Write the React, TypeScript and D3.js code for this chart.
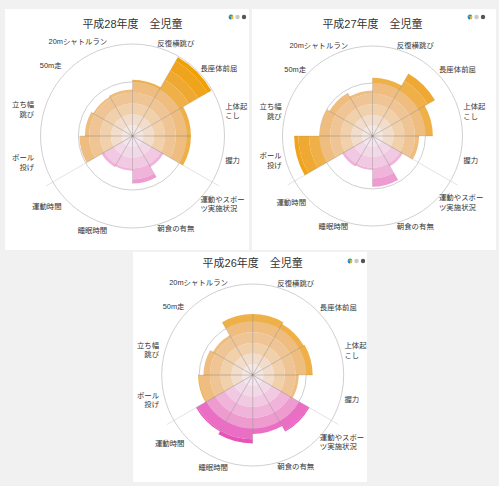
import React from "react";
import * as d3 from "d3";

const categories = [
  "反復横跳び", "長座体前屈", "上体起こし", "握力", "運動やスポーツ実施状況", "朝食の有無",
  "睡眠時間", "運動時間", "ボール投げ", "立ち幅跳び", "50m走", "20mシャトルラン",
];
const categoryLines = [
  ["反復横跳び"], ["長座体前屈"], ["上体起", "こし"], ["握力"], ["運動やスポー", "ツ実施状況"], ["朝食の有無"],
  ["睡眠時間"], ["運動時間"], ["ボール", "投げ"], ["立ち幅", "跳び"], ["50m走"], ["20mシャトルラン"],
];
const categoryGroup = ["fit", "fit", "fit", "fit", "life", "life", "life", "life", "fit", "fit", "fit", "fit"];

const titles = ["平成28年度　全児童", "平成27年度　全児童", "平成26年度　全児童"];
const valuesH28 = [52, 84, 54, 54, 33, 44, 32, 33, 49, 44, 42, 43];
const valuesH27 = [55, 68, 57, 44, 33, 48, 32, 33, 74, 50, 47, 43];
const valuesH26 = [57, 55, 56, 43, 61, 55, 64, 61, 51, 46, 43, 57];
const seriesValues = [valuesH28, valuesH27, valuesH26];

const averageLevel = 50;
const maxLevel = 85;
const bandStep = 10;

const orangeBands = ["#f3e8e4", "#f2ddcc", "#f1d0ac", "#f0c595", "#eebd7f", "#efb048", "#efa932", "#f0a41c", "#f0a000"];
const pinkBands = ["#f3e6ee", "#f2d9e8", "#f1c9e2", "#f0b4da", "#ee9cd0", "#ea6ec3", "#e754b8", "#e546b1", "#e43fae"];

const W = 499;
const H = 486;

const layout = [
  { rect: [5, 9, 244, 241], cx: 132.5, cy: 136, R: 92, leftPad: 6, legendX: 231, legendY: 17 },
  { rect: [252, 9, 244, 241], cx: 372.5, cy: 136, R: 90, leftPad: 0, legendX: 470, legendY: 17 },
  { rect: [133, 252, 234, 230], cx: 252.7, cy: 375, R: 91, leftPad: 2, legendX: 350, legendY: 261 },
];

const FONT = "'Liberation Sans', 'Noto Sans CJK JP', sans-serif";

function Rose({ idx }: { idx: number }) {
  const L = layout[idx];
  const values = seriesValues[idx];
  const r = d3.scaleLinear().domain([0, maxLevel]).range([0, L.R]);
  const step = (Math.PI * 2) / categories.length;
  const arc = d3.arc<any>();
  const bands: any[] = [];
  values.forEach((v, i) => {
    const pal = categoryGroup[i] === "fit" ? orangeBands : pinkBands;
    for (let k = 0; k * bandStep < v; k++) {
      const lo = k * bandStep;
      const hi = Math.min(v, (k + 1) * bandStep);
      bands.push(
        <path
          key={`b${i}-${k}`}
          d={arc({ innerRadius: r(lo), outerRadius: r(hi), startAngle: i * step, endAngle: (i + 1) * step }) as string}
          fill={pal[Math.min(k, pal.length - 1)]}
        />
      );
    }
  });
  const spokes: any[] = [];
  values.forEach((v, i) => {
    [i * step, (i + 1) * step].forEach((a, j) => {
      spokes.push(
        <line
          key={`s${i}-${j}`}
          x1={0}
          y1={0}
          x2={r(v) * Math.sin(a)}
          y2={-r(v) * Math.cos(a)}
          stroke="rgba(120,110,110,0.33)"
          strokeWidth={0.6}
        />
      );
    });
  });
  const dividers = [4, 8].map((i) => {
    const a = i * step;
    const len = L.R + 8;
    return (
      <line key={`d${i}`} x1={0} y1={0} x2={len * Math.sin(a)} y2={-len * Math.cos(a)} stroke="#e4e4e4" strokeWidth={1} />
    );
  });
  const labels: any[] = [];
  categoryLines.forEach((lines, i) => {
    const a = (i + 0.5) * step;
    const s = Math.sin(a);
    const anchor = s > 0.05 ? "start" : s < -0.05 ? "end" : "middle";
    const rl = L.R + 4 + (s < -0.05 ? L.leftPad * Math.abs(s) : 0);
    const x = rl * s;
    const y = -rl * Math.cos(a);
    const lh = 9.4;
    const y0 = y - ((lines.length - 1) * lh) / 2;
    lines.forEach((t, j) => {
      labels.push(
        <text
          key={`l${i}-${j}`}
          x={x}
          y={y0 + j * lh}
          textAnchor={anchor}
          dominantBaseline="central"
          fontSize={7.4}
          fill="#333333"
          fontFamily={FONT}
        >
          {t}
        </text>
      );
    });
  });
  const [rx, ry, rw, rh] = L.rect;
  const legendArc = d3.arc<any>().innerRadius(0).outerRadius(2.4);
  const legendColors = ["#2a7fd4", "#33a852", "#f0b020"];
  return (
    <g>
      <rect x={rx} y={ry} width={rw} height={rh} fill="#ffffff" />
      <text x={L.cx} y={L.cy - 112} textAnchor="middle" dominantBaseline="central" fontSize={11} fill="#333" fontFamily={FONT}>
        {titles[idx]}
      </text>
      <g transform={`translate(${L.legendX},${L.legendY})`}>
        {legendColors.map((c, j) => (
          <path key={j} d={legendArc({ startAngle: (j * 2 * Math.PI) / 3 + Math.PI, endAngle: ((j + 1) * 2 * Math.PI) / 3 + Math.PI }) as string} fill={c} />
        ))}
        <circle cx={6.5} cy={0} r={2.2} fill="#c8c8c8" />
        <circle cx={13} cy={0} r={2.2} fill="#555" />
      </g>
      <g transform={`translate(${L.cx},${L.cy})`}>
        {dividers}
        <circle r={r(maxLevel)} fill="none" stroke="#d0d0d0" strokeWidth={1} />
        <circle r={r(averageLevel)} fill="none" stroke="#cfcfcf" strokeWidth={1} />
        {bands}
        {spokes}
        {labels}
      </g>
    </g>
  );
}

export default function App() {
  return (
    <div style={{ position: "absolute", left: 0, top: 0 }}>
      <svg width={W} height={H} style={{ display: "block" }}>
        <rect width={W} height={H} fill="#f1f1f1" />
        {[0, 1, 2].map((i) => (
          <Rose key={i} idx={i} />
        ))}
      </svg>
    </div>
  );
}
